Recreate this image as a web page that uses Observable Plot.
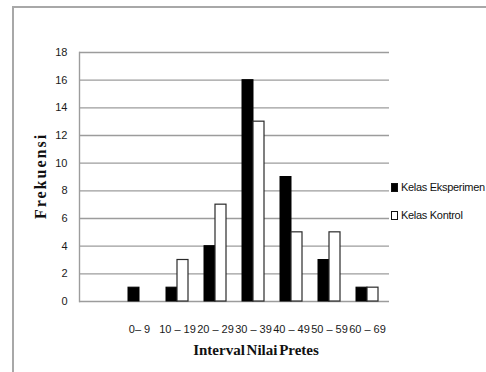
<!DOCTYPE html>
<html>
<head>
<meta charset="utf-8">
<script src="https://cdn.jsdelivr.net/npm/d3@7"></script>
<script src="https://cdn.jsdelivr.net/npm/@observablehq/plot@0.6"></script>
<style>
  html, body { margin: 0; padding: 0; width: 486px; height: 372px; overflow: hidden; background: #fff; }
  #frame { position: absolute; left: 12px; top: 6px; width: 520px; height: 364px;
           border-left: 2px solid #a8a8a8; border-top: 2px solid #a8a8a8; border-bottom: 1px solid #e0e0e0; }
  #chart { position: absolute; left: 0; top: 0; }
  .legend { position: absolute; left: 391px; font: 11px "Liberation Sans", Arial, sans-serif; color: #111; white-space: nowrap; letter-spacing: -0.3px; }
  .legend .sw { display: inline-block; width: 7px; height: 9px; box-sizing: border-box; border: 1px solid #111; vertical-align: middle; margin-right: 3px; position: relative; top: -1px; }
</style>
</head>
<body>
<div id="frame"></div>
<div id="chart"></div>
<div class="legend" style="top:181px"><span class="sw" style="background:#000"></span>Kelas Eksperimen</div>
<div class="legend" style="top:209px"><span class="sw" style="background:#fff"></span>Kelas Kontrol</div>
<script>
const categories = ["", "0– 9", "10 – 19", "20 – 29", "30 – 39", "40 – 49", "50 – 59", "60 – 69"];
const eksperimen = [0, 1, 1, 4, 16, 9, 3, 1];
const kontrol = [0, 0, 3, 7, 13, 5, 5, 1];
const yTicks = [0, 2, 4, 6, 8, 10, 12, 14, 16, 18];
const seriesNames = ["Kelas Eksperimen", "Kelas Kontrol"];

const rows = [];
categories.forEach((c, i) => {
  rows.push({category: c, series: seriesNames[0], value: eksperimen[i]});
  rows.push({category: c, series: seriesNames[1], value: kontrol[i]});
});

const plot = Plot.plot({
  width: 486,
  height: 372,
  marginLeft: 79,
  marginRight: 97,
  marginTop: 52,
  marginBottom: 71,
  style: {fontFamily: "'Liberation Sans', Arial, sans-serif", fontSize: "11px", color: "#1a1a1a", background: "transparent"},
  x: {domain: categories, paddingInner: 0.433, paddingOuter: 0.2165, label: null},
  y: {domain: [0, 18], label: null},
  marks: [
    Plot.ruleY(yTicks, {stroke: "#9c9c9c", strokeWidth: 1.4}),
    Plot.frame({anchor: "left", stroke: "#9c9c9c", strokeWidth: 1.4}),
    Plot.barY(rows.filter(d => d.series === seriesNames[0] && d.value > 0),
      {x: "category", y: "value", fill: "#000", stroke: "#000", insetRight: 11}),
    Plot.barY(rows.filter(d => d.series === seriesNames[1] && d.value > 0),
      {x: "category", y: "value", fill: "#fff", stroke: "#2a2a2a", strokeWidth: 1.2, insetLeft: 11}),
    Plot.axisY({ticks: yTicks, tickSize: 0, tickPadding: 12, label: null}),
    Plot.axisX({tickSize: 0, tickPadding: 24, label: null})
  ]
});

const svg = d3.select(plot);
svg.append("text")
  .attr("x", 256).attr("y", 355)
  .attr("text-anchor", "middle")
  .style("font", "bold 15px 'Liberation Serif', 'Times New Roman', serif")
  .style("word-spacing", "-2px")
  .attr("fill", "#111")
  .text("Interval Nilai Pretes");
svg.append("text")
  .attr("transform", "translate(46,176) rotate(-90)")
  .attr("text-anchor", "middle")
  .style("font", "bold 16px 'Liberation Serif', 'Times New Roman', serif")
  .style("letter-spacing", "2px")
  .attr("fill", "#111")
  .text("Frekuensi");

document.getElementById("chart").appendChild(plot);
</script>
</body>
</html>
